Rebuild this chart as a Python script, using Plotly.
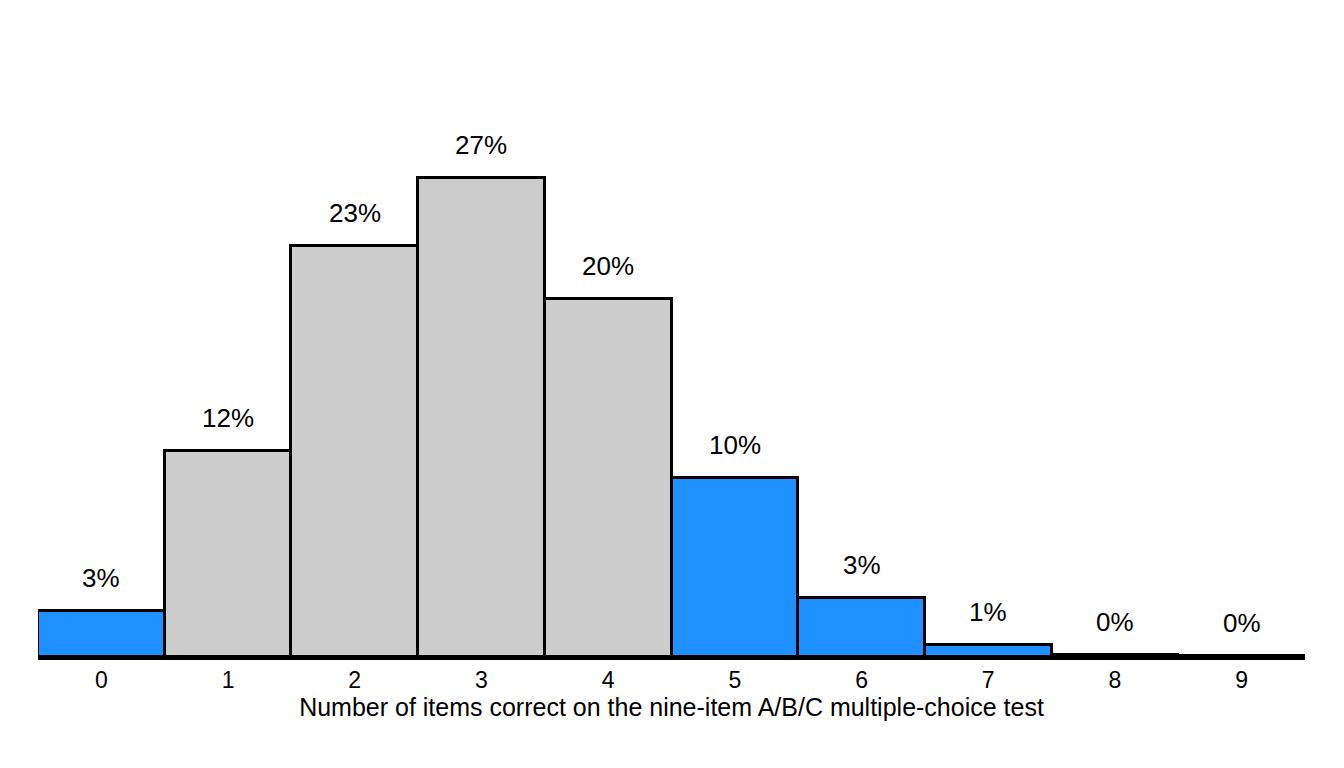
import plotly.graph_objects as go

items = [0, 1, 2, 3, 4, 5, 6, 7, 8, 9]
values = [2.6, 11.6, 23.2, 27.0, 20.2, 10.1, 3.35, 0.67, 0.1, 0.03]
labels = ["3%", "12%", "23%", "27%", "20%", "10%", "3%", "1%", "0%", "0%"]
colors = ["#1E90FF", "#CCCCCC", "#CCCCCC", "#CCCCCC", "#CCCCCC",
          "#1E90FF", "#1E90FF", "#1E90FF", "#1E90FF", "#1E90FF"]

fig = go.Figure(go.Bar(
    x=items, y=values,
    marker=dict(color=colors, line=dict(color="black", width=3)),
    width=1, cliponaxis=False,
))
for xi, yi, lab in zip(items, values, labels):
    fig.add_annotation(x=xi, y=yi, text=lab, showarrow=False, yanchor="bottom",
                       yshift=16, font=dict(size=26, color="black"))
fig.update_layout(
    width=1344, height=768, plot_bgcolor="white", paper_bgcolor="white",
    margin=dict(l=30, r=47, t=0, b=119), bargap=0, showlegend=False,
    font=dict(family="Liberation Sans, Arial", color="black"),
)
fig.update_xaxes(range=[-0.5, 9.5], tickvals=items, ticktext=[str(i) for i in items],
                 tickfont=dict(size=23), showline=True, linecolor="black", linewidth=3,
                 ticks="", showgrid=False, zeroline=False,
                 title=dict(text="Number of items correct on the nine-item A/B/C multiple-choice test",
                            font=dict(size=25), standoff=6))
fig.update_yaxes(range=[0, 36.6], visible=False)
fig.write_html("out.html")
